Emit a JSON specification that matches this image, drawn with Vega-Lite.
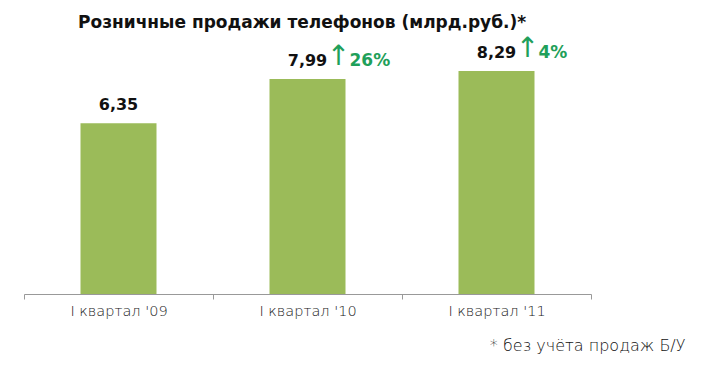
{
  "$schema": "https://vega.github.io/schema/vega-lite/v6.json",
  "width": 567,
  "height": 269,
  "autosize": {"type": "none"},
  "padding": {"left": 24, "top": 25, "right": 114, "bottom": 90},
  "background": "white",
  "title": {
    "text": "Розничные продажи телефонов (млрд.руб.)*",
    "anchor": "start",
    "frame": "group",
    "dx": 54,
    "offset": -7,
    "font": "DejaVu Sans",
    "fontSize": 17,
    "fontWeight": "bold",
    "color": "#111111"
  },
  "config": {"view": {"stroke": null}},
  "data": {
    "values": [
      {"q": "I квартал '09", "v": 6.35, "label": "6,35", "pct": ""},
      {"q": "I квартал '10", "v": 7.99, "label": "7,99", "pct": "26%"},
      {"q": "I квартал '11", "v": 8.29, "label": "8,29", "pct": "4%"}
    ]
  },
  "encoding": {
    "x": {
      "field": "q",
      "type": "nominal",
      "sort": null,
      "scale": {"paddingInner": 0, "paddingOuter": 0},
      "axis": {
        "title": "* без учёта продаж Б/У",
        "titleFont": "DejaVu Sans",
        "titleFontWeight": 300,
        "titleFontSize": 16,
        "titleColor": "#111111",
        "titleX": 661,
        "titleY": 51,
        "titleAlign": "right",
        "titleBaseline": "middle",
        "labelAngle": 0,
        "labelFont": "DejaVu Sans",
        "labelFontWeight": 300,
        "labelFontSize": 14.5,
        "labelColor": "#222222",
        "labelPadding": 5,
        "tickBand": "extent",
        "tickSize": 5,
        "tickColor": "#999999",
        "domainColor": "#999999",
        "grid": false
      }
    },
    "y": {
      "field": "v",
      "type": "quantitative",
      "scale": {"domain": [0, 10]},
      "axis": null
    }
  },
  "layer": [
    {"mark": {"type": "bar", "size": 76, "color": "#9BBB59"}},
    {
      "mark": {"type": "text", "baseline": "middle", "dy": -18, "font": "DejaVu Sans", "fontSize": 16, "fontWeight": "bold", "color": "#111111"},
      "encoding": {"text": {"field": "label"}}
    },
    {
      "transform": [{"filter": "datum.pct != ''"}],
      "mark": {"type": "text", "baseline": "middle", "dx": 31, "dy": -22, "font": "DejaVu Sans", "fontSize": 28, "color": "#1FA05A"},
      "encoding": {"text": {"value": "↑"}}
    },
    {
      "transform": [{"filter": "datum.pct != ''"}],
      "mark": {"type": "text", "baseline": "middle", "align": "left", "dx": 42, "dy": -18, "font": "DejaVu Sans", "fontSize": 17, "fontWeight": "bold", "color": "#1FA05A"},
      "encoding": {"text": {"field": "pct"}}
    }
  ]
}
